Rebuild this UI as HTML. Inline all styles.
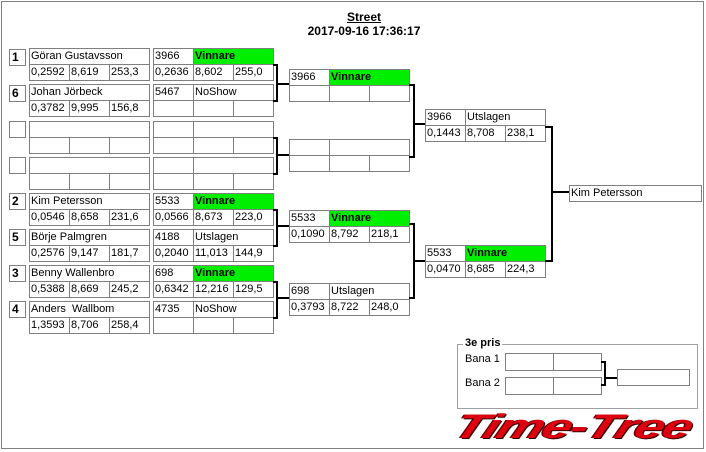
<!DOCTYPE html>
<html><head><meta charset="utf-8">
<style>
body{margin:0;width:706px;height:452px;background:#fff;position:relative;overflow:hidden;font-family:"Liberation Sans",sans-serif;font-size:11px;color:#000}
.frame{position:absolute;left:1px;top:1px;width:703px;height:448px;border:1px solid #808080;box-sizing:border-box}
.c{position:absolute;border:1px solid #7f7f7f;height:17px;box-sizing:border-box;line-height:14px;padding-left:1px;white-space:nowrap;overflow:hidden;background:#fff}
.g{background:#00ee00;font-weight:bold}
.s{position:absolute;border:1px solid #7f7f7f;width:17px;height:17px;box-sizing:border-box;font-weight:bold;font-size:12px;line-height:14px;padding-left:2px}
.t{position:absolute;font-weight:bold;font-size:12px;text-align:center;width:200px;left:264px}
</style></head><body>
<div class="frame"></div>
<div class="t" style="top:10px;text-decoration:underline">Street</div>
<div class="t" style="top:24px">2017-09-16 17:36:17</div>

<!-- Round 1 -->
<div class="s" style="left:9px;top:49px">1</div>
<div class="c" style="left:29px;top:48px;width:121px">Göran Gustavsson</div>
<div class="c" style="left:29px;top:64px;width:41px">0,2592</div><div class="c" style="left:69px;top:64px;width:41px">8,619</div><div class="c" style="left:109px;top:64px;width:41px">253,3</div>
<div class="c" style="left:153px;top:48px;width:41px">3966</div><div class="c g" style="left:193px;top:48px;width:81px">Vinnare</div>
<div class="c" style="left:153px;top:64px;width:41px">0,2636</div><div class="c" style="left:193px;top:64px;width:41px">8,602</div><div class="c" style="left:233px;top:64px;width:41px">255,0</div>

<div class="s" style="left:9px;top:85px">6</div>
<div class="c" style="left:29px;top:84px;width:121px">Johan Jörbeck</div>
<div class="c" style="left:29px;top:100px;width:41px">0,3782</div><div class="c" style="left:69px;top:100px;width:41px">9,995</div><div class="c" style="left:109px;top:100px;width:41px">156,8</div>
<div class="c" style="left:153px;top:84px;width:41px">5467</div><div class="c" style="left:193px;top:84px;width:81px">NoShow</div>
<div class="c" style="left:153px;top:100px;width:41px"></div><div class="c" style="left:193px;top:100px;width:41px"></div><div class="c" style="left:233px;top:100px;width:41px"></div>

<div class="s" style="left:9px;top:121px"></div>
<div class="c" style="left:29px;top:121px;width:121px"></div>
<div class="c" style="left:29px;top:137px;width:41px"></div><div class="c" style="left:69px;top:137px;width:41px"></div><div class="c" style="left:109px;top:137px;width:41px"></div>
<div class="c" style="left:153px;top:121px;width:41px"></div><div class="c" style="left:193px;top:121px;width:81px"></div>
<div class="c" style="left:153px;top:137px;width:41px"></div><div class="c" style="left:193px;top:137px;width:41px"></div><div class="c" style="left:233px;top:137px;width:41px"></div>

<div class="s" style="left:9px;top:157px"></div>
<div class="c" style="left:29px;top:157px;width:121px"></div>
<div class="c" style="left:29px;top:173px;width:41px"></div><div class="c" style="left:69px;top:173px;width:41px"></div><div class="c" style="left:109px;top:173px;width:41px"></div>
<div class="c" style="left:153px;top:157px;width:41px"></div><div class="c" style="left:193px;top:157px;width:81px"></div>
<div class="c" style="left:153px;top:173px;width:41px"></div><div class="c" style="left:193px;top:173px;width:41px"></div><div class="c" style="left:233px;top:173px;width:41px"></div>

<div class="s" style="left:9px;top:193px">2</div>
<div class="c" style="left:29px;top:193px;width:121px">Kim Petersson</div>
<div class="c" style="left:29px;top:209px;width:41px">0,0546</div><div class="c" style="left:69px;top:209px;width:41px">8,658</div><div class="c" style="left:109px;top:209px;width:41px">231,6</div>
<div class="c" style="left:153px;top:193px;width:41px">5533</div><div class="c g" style="left:193px;top:193px;width:81px">Vinnare</div>
<div class="c" style="left:153px;top:209px;width:41px">0,0566</div><div class="c" style="left:193px;top:209px;width:41px">8,673</div><div class="c" style="left:233px;top:209px;width:41px">223,0</div>

<div class="s" style="left:9px;top:229px">5</div>
<div class="c" style="left:29px;top:229px;width:121px">Börje Palmgren</div>
<div class="c" style="left:29px;top:245px;width:41px">0,2576</div><div class="c" style="left:69px;top:245px;width:41px">9,147</div><div class="c" style="left:109px;top:245px;width:41px">181,7</div>
<div class="c" style="left:153px;top:229px;width:41px">4188</div><div class="c" style="left:193px;top:229px;width:81px">Utslagen</div>
<div class="c" style="left:153px;top:245px;width:41px">0,2040</div><div class="c" style="left:193px;top:245px;width:41px">11,013</div><div class="c" style="left:233px;top:245px;width:41px">144,9</div>

<div class="s" style="left:9px;top:265px">3</div>
<div class="c" style="left:29px;top:265px;width:121px">Benny Wallenbro</div>
<div class="c" style="left:29px;top:281px;width:41px">0,5388</div><div class="c" style="left:69px;top:281px;width:41px">8,669</div><div class="c" style="left:109px;top:281px;width:41px">245,2</div>
<div class="c" style="left:153px;top:265px;width:41px">698</div><div class="c g" style="left:193px;top:265px;width:81px">Vinnare</div>
<div class="c" style="left:153px;top:281px;width:41px">0,6342</div><div class="c" style="left:193px;top:281px;width:41px">12,216</div><div class="c" style="left:233px;top:281px;width:41px">129,5</div>

<div class="s" style="left:9px;top:301px">4</div>
<div class="c" style="left:29px;top:301px;width:121px">Anders&nbsp; Wallbom</div>
<div class="c" style="left:29px;top:317px;width:41px">1,3593</div><div class="c" style="left:69px;top:317px;width:41px">8,706</div><div class="c" style="left:109px;top:317px;width:41px">258,4</div>
<div class="c" style="left:153px;top:301px;width:41px">4735</div><div class="c" style="left:193px;top:301px;width:81px">NoShow</div>
<div class="c" style="left:153px;top:317px;width:41px"></div><div class="c" style="left:193px;top:317px;width:41px"></div><div class="c" style="left:233px;top:317px;width:41px"></div>

<!-- Round 2 -->
<div class="c" style="left:289px;top:69px;width:41px">3966</div><div class="c g" style="left:329px;top:69px;width:81px">Vinnare</div>
<div class="c" style="left:289px;top:85px;width:41px"></div><div class="c" style="left:329px;top:85px;width:41px"></div><div class="c" style="left:369px;top:85px;width:41px"></div>

<div class="c" style="left:289px;top:139px;width:41px"></div><div class="c" style="left:329px;top:139px;width:81px"></div>
<div class="c" style="left:289px;top:155px;width:41px"></div><div class="c" style="left:329px;top:155px;width:41px"></div><div class="c" style="left:369px;top:155px;width:41px"></div>

<div class="c" style="left:289px;top:210px;width:41px">5533</div><div class="c g" style="left:329px;top:210px;width:81px">Vinnare</div>
<div class="c" style="left:289px;top:226px;width:41px">0,1090</div><div class="c" style="left:329px;top:226px;width:41px">8,792</div><div class="c" style="left:369px;top:226px;width:41px">218,1</div>

<div class="c" style="left:289px;top:283px;width:41px">698</div><div class="c" style="left:329px;top:283px;width:81px">Utslagen</div>
<div class="c" style="left:289px;top:299px;width:41px">0,3793</div><div class="c" style="left:329px;top:299px;width:41px">8,722</div><div class="c" style="left:369px;top:299px;width:41px">248,0</div>

<!-- Round 3 -->
<div class="c" style="left:425px;top:109px;width:41px">3966</div><div class="c" style="left:465px;top:109px;width:81px">Utslagen</div>
<div class="c" style="left:425px;top:125px;width:41px">0,1443</div><div class="c" style="left:465px;top:125px;width:41px">8,708</div><div class="c" style="left:505px;top:125px;width:41px">238,1</div>

<div class="c" style="left:425px;top:245px;width:41px">5533</div><div class="c g" style="left:465px;top:245px;width:81px">Vinnare</div>
<div class="c" style="left:425px;top:261px;width:41px">0,0470</div><div class="c" style="left:465px;top:261px;width:41px">8,685</div><div class="c" style="left:505px;top:261px;width:41px">224,3</div>

<div class="c" style="left:569px;top:185px;width:133px">Kim Petersson</div>

<!-- 3e pris -->
<div style="position:absolute;left:457px;top:344px;width:241px;height:65px;border:1px solid #a0a0a0;box-sizing:border-box"></div>
<div style="position:absolute;left:463px;top:337px;background:#fff;padding:0 2px;font-weight:bold">3e pris</div>
<div style="position:absolute;left:465px;top:353px">Bana 1</div>
<div style="position:absolute;left:465px;top:377px">Bana 2</div>
<div class="c" style="left:505px;top:353px;width:49px;height:18px"></div><div class="c" style="left:553px;top:353px;width:49px;height:18px"></div>
<div class="c" style="left:505px;top:377px;width:49px;height:18px"></div><div class="c" style="left:553px;top:377px;width:49px;height:18px"></div>
<div class="c" style="left:617px;top:369px;width:73px;height:17px"></div>

<svg width="706" height="452" style="position:absolute;left:0;top:0" fill="none" stroke="#000" stroke-width="2">
<path d="M273 65H277V101H273M277 84H289"/>
<path d="M273 138H277V174H273M277 155H289"/>
<path d="M273 210H277V246H273M277 226H289"/>
<path d="M273 282H277V318H273M277 298H289"/>
<path d="M409 85H414V157H409M414 124H425"/>
<path d="M409 224H414V298H409M414 261H425"/>
<path d="M545 127H552V261H545M552 192H569"/>
<path d="M601 362H605V385H601M605 378H617"/>
</svg>

<div style="position:absolute;left:448px;top:409px;width:240px;height:36px;font-family:'Liberation Sans',sans-serif;font-weight:bold;font-style:italic;font-size:34px;line-height:36px;color:#dd0010;transform:skewX(-22deg) scaleX(1.55);transform-origin:left bottom;letter-spacing:-1px;text-shadow:1px 1px 0 #300,-1px 0 0 #600;white-space:nowrap">Time-Tree</div>
</body></html>
